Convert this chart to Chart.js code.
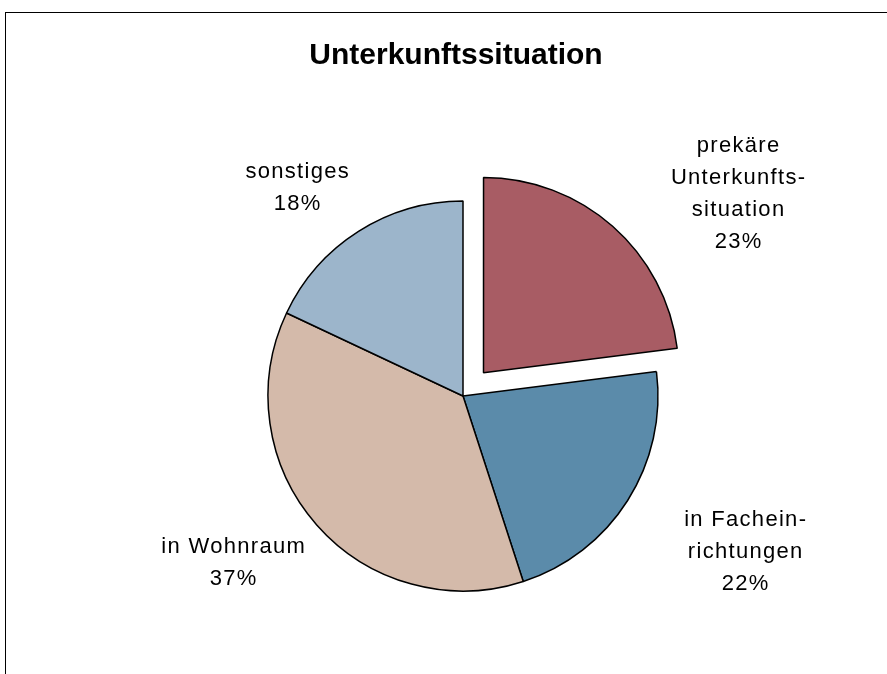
<!DOCTYPE html>
<html>
<head>
<meta charset="utf-8">
<script src="https://cdn.jsdelivr.net/npm/chart.js@4"></script>
<style>
  html, body { margin: 0; padding: 0; background: #fff; }
  canvas { display: block; }
</style>
</head>
<body>
<canvas id="chart" width="887" height="674"></canvas>
<script>
/* Unterkunftssituation - pie with one exploded slice */

const chartTitle = "Unterkunftssituation";
const categories = [
  ["prekäre", "Unterkunfts-", "situation"],
  ["in Fachein-", "richtungen"],
  ["in Wohnraum"],
  ["sonstiges"]
];
const shares = [23, 22, 37, 18];
const sliceColors = ["#a85c64", "#5b8baa", "#d4baaa", "#9cb5cb"];
const explode = [124, 0, 0, 0];

// label placement: angle tweak (deg) from slice middle, distance in radii
const labelAngle = [12.1, -3.7, 5.75, -5.9];
const labelDist = [1.754, 1.649, 1.451, 1.373];

const FONT = '"Liberation Sans", Arial, sans-serif';

const decorations = {
  id: "decorations",
  beforeDraw(chart) {
    const ctx = chart.ctx;
    ctx.save();
    ctx.strokeStyle = "#000";
    ctx.lineWidth = 1;
    ctx.strokeRect(5.5, 12.5, 2000, 2000);
    ctx.restore();
  },
  afterDraw(chart) {
    const ctx = chart.ctx;
    const meta = chart.getDatasetMeta(0);
    const total = shares.reduce((a, b) => a + b, 0);

    ctx.save();
    ctx.fillStyle = "#000";
    ctx.textAlign = "center";
    ctx.textBaseline = "alphabetic";

    ctx.font = "bold 30px " + FONT;
    ctx.fillText(chartTitle, 456, 64);

    ctx.font = "22px " + FONT;
    ctx.letterSpacing = "1.3px";
    const lh = 32;
    meta.data.forEach((arc, i) => {
      const p = arc.getProps(["x", "y", "startAngle", "endAngle", "outerRadius"], true);
      const a = (p.startAngle + p.endAngle) / 2 + labelAngle[i] * Math.PI / 180;
      const cx = p.x + Math.cos(a) * p.outerRadius * labelDist[i];
      const cy = p.y + Math.sin(a) * p.outerRadius * labelDist[i];
      const lines = categories[i].concat([Math.round(shares[i] / total * 100) + "%"]);
      lines.forEach((t, j) => {
        const by = cy + (j - (lines.length - 1) / 2) * lh + 7.7;
        ctx.fillText(t, cx + 0.65, by);
      });
    });
    ctx.restore();
  }
};

new Chart(document.getElementById("chart"), {
  type: "pie",
  data: {
    labels: categories.map(c => c.join(" ")),
    datasets: [{
      data: shares,
      backgroundColor: sliceColors,
      borderColor: "#000",
      borderWidth: 1.5,
      offset: explode
    }]
  },
  options: {
    responsive: false,
    animation: false,
    radius: 195,
    layout: { padding: { left: 213, right: 174, top: 146, bottom: 28 } },
    plugins: {
      legend: { display: false },
      title: { display: false },
      tooltip: { enabled: false }
    }
  },
  plugins: [decorations]
});
</script>
</body>
</html>
